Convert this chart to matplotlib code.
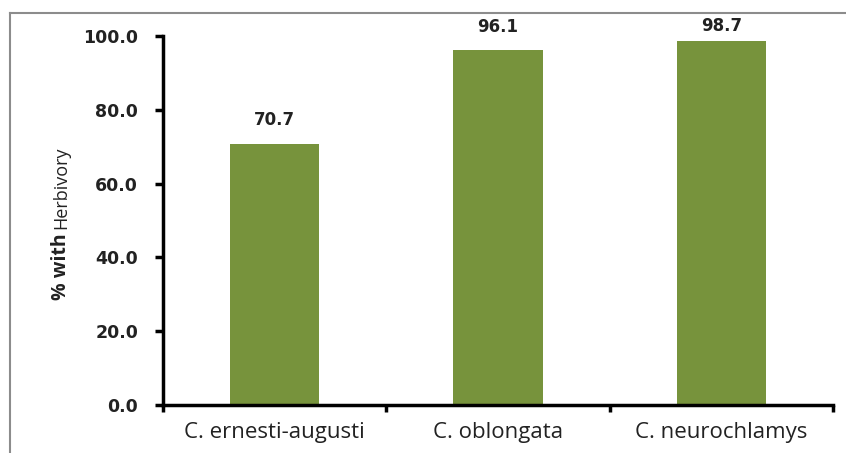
import matplotlib
matplotlib.use("Agg")
import matplotlib.pyplot as plt
from matplotlib.lines import Line2D

species = ["C. ernesti-augusti", "C. oblongata", "C. neurochlamys"]
herbivory = [70.7, 96.1, 98.7]
yticks = [0, 20, 40, 60, 80, 100]

fig = plt.figure(figsize=(8.46, 4.53), dpi=100)
ax = fig.add_axes([163 / 846, 1 - 405 / 453, (833 - 163) / 846, (405 - 36) / 453])

xs = list(range(len(species)))
ax.bar(xs, herbivory, width=0.4, color="#77933C", zorder=2)
for x, v in zip(xs, herbivory):
    # labels sit above the bar but are kept inside the plot area, like Excel does
    ax.text(x, min(v + 4.0, 100.3), "%.1f" % v, ha="center", va="bottom", clip_on=False,
            fontsize=12, fontweight="bold", color="#222222", family="DejaVu Sans")

ax.set_xlim(-0.5, 2.5)
ax.set_ylim(0, 100)
ax.set_yticks(yticks)
ax.set_yticklabels(["%.1f" % t for t in yticks], fontsize=12.5, fontweight="bold",
                   family="DejaVu Sans", color="#222222")
ax.set_xticks([-0.5, 0.5, 1.5, 2.5])
ax.set_xticklabels([])
ax.set_xticks(xs, minor=True)
ax.set_xticklabels(species, minor=True, fontsize=16, family="Open Sans", color="#222222")
ax.tick_params(axis="x", which="minor", length=0, pad=12)
ax.tick_params(axis="x", which="major", length=5, width=2.5, direction="out")
ax.tick_params(axis="y", length=6, width=2.5, direction="out", pad=12)

for s in ["top", "right"]:
    ax.spines[s].set_visible(False)
for s in ["left", "bottom"]:
    ax.spines[s].set_linewidth(2.5)
    ax.spines[s].set_color("black")

# y label: bold "% with" and smaller "Herbivory", sharing one baseline
fig.text(66 / 846, 1 - 300 / 453, "% with", rotation=90, rotation_mode="anchor",
         ha="left", va="baseline", fontsize=14, fontweight="bold",
         family="Open Sans", color="#222222")
fig.text(66 / 846, 1 - 229 / 453, "Herbivory", rotation=90, rotation_mode="anchor",
         ha="left", va="baseline", fontsize=13, family="Open Sans", color="#222222")

# chart area border (left and top visible)
fig.add_artist(Line2D([10 / 846, 10 / 846], [0, 1 - 13 / 453], transform=fig.transFigure,
                      color="#8c8c8c", linewidth=1.5))
fig.add_artist(Line2D([10 / 846, 1], [1 - 13 / 453, 1 - 13 / 453], transform=fig.transFigure,
                      color="#8c8c8c", linewidth=1.5))

fig.savefig("out.png", dpi=100)
